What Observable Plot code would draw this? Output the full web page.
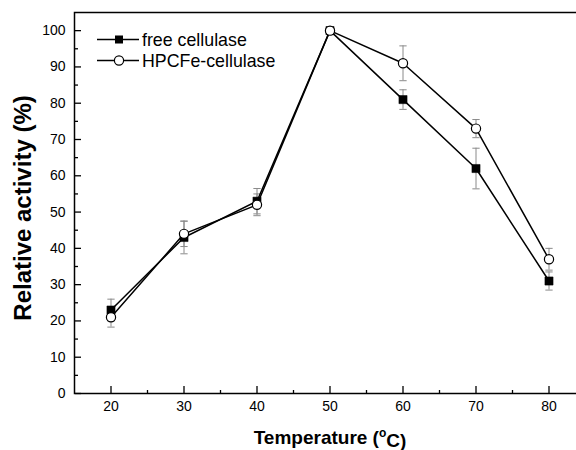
<!DOCTYPE html>
<html><head><meta charset="utf-8">
<script src="https://cdn.jsdelivr.net/npm/d3@7"></script>
<script src="https://cdn.jsdelivr.net/npm/@observablehq/plot@0.6"></script>
<style>
html,body{margin:0;padding:0;background:#fff;overflow:hidden;}
#wrap{position:relative;width:576px;height:450px;overflow:hidden;}
#legend{position:absolute;left:0;top:0;}
</style></head><body><div id="wrap"></div>
<script>
const temperatures = [20, 30, 40, 50, 60, 70, 80];
const freeActivity = [23, 43, 53, 100, 81, 62, 31];
const freeError = [3, 4.5, 3.5, 1, 2.7, 5.6, 2.5];
const hpcfeActivity = [21, 44, 52, 100, 91, 73, 37];
const hpcfeError = [2.7, 3.5, 3, 1, 4.8, 2.5, 3];
const seriesNames = ["free cellulase", "HPCFe-cellulase"];
const xTicks = [20, 30, 40, 50, 60, 70, 80];
const xMinorTicks = [25, 35, 45, 55, 65, 75];
const yTicks = [0, 10, 20, 30, 40, 50, 60, 70, 80, 90, 100];
const yMinorTicks = [5, 15, 25, 35, 45, 55, 65, 75, 85, 95];
const xTitle = "Temperature (°C)";
const yTitle = "Relative activity (%)";

const free = temperatures.map((t, i) => ({t, v: freeActivity[i], e: freeError[i]}));
const hpcfe = temperatures.map((t, i) => ({t, v: hpcfeActivity[i], e: hpcfeError[i]}));

const errMarks = (data) => [
  Plot.ruleX(data, {x: "t", y1: d => d.v - d.e, y2: d => d.v + d.e, stroke: "#8a8a8a", strokeWidth: 1}),
  Plot.link(data, {x1: d => d.t - 0.5, x2: d => d.t + 0.5, y1: d => d.v + d.e, y2: d => d.v + d.e, stroke: "#8a8a8a", strokeWidth: 1}),
  Plot.link(data, {x1: d => d.t - 0.5, x2: d => d.t + 0.5, y1: d => d.v - d.e, y2: d => d.v - d.e, stroke: "#8a8a8a", strokeWidth: 1})
];

const chart = Plot.plot({
  width: 576,
  height: 450,
  marginLeft: 74,
  marginRight: -9,
  marginTop: 12,
  marginBottom: 57,
  style: {fontFamily: "'Liberation Sans', Arial, sans-serif", fontSize: "14px", color: "black", background: "white"},
  x: {domain: [15, 85]},
  y: {domain: [0, 105]},
  marks: [
    ...errMarks(free),
    ...errMarks(hpcfe),
    Plot.line(free, {x: "t", y: "v", stroke: "black", strokeWidth: 1.5}),
    Plot.line(hpcfe, {x: "t", y: "v", stroke: "black", strokeWidth: 1.5}),
    Plot.dot(free, {x: "t", y: "v", symbol: "square", r: 4.6, fill: "black", stroke: "black", strokeWidth: 0.5}),
    Plot.dot(hpcfe, {x: "t", y: "v", symbol: "circle", r: 4.6, fill: "white", stroke: "black", strokeWidth: 1.2}),
    // labels
    Plot.axisX(xTicks, {anchor: "bottom", tickSize: 0, tickPadding: 8, label: null, fontSize: 14}),
    Plot.axisY(yTicks, {anchor: "left", tickSize: 0, tickPadding: 9, label: null, fontSize: 14}),
    // inward ticks
    Plot.axisX(xTicks, {anchor: "top", frameAnchor: "bottom", facetAnchor: null, tickSize: 8, text: null, label: null, strokeWidth: 1.3}),
    Plot.axisX(xMinorTicks, {anchor: "top", frameAnchor: "bottom", facetAnchor: null, tickSize: 4, text: null, label: null, strokeWidth: 1.3}),
    Plot.axisY(yTicks, {anchor: "right", frameAnchor: "left", facetAnchor: null, tickSize: 6, text: null, label: null, strokeWidth: 1.3}),
    Plot.axisY(yMinorTicks, {anchor: "right", frameAnchor: "left", facetAnchor: null, tickSize: 3, text: null, label: null, strokeWidth: 1.3}),
    Plot.frame({stroke: "black", strokeWidth: 1.5}),
    Plot.text([xTitle], {frameAnchor: "bottom", textAnchor: "middle", lineAnchor: "middle", dy: 44, fontSize: 19, fontWeight: "bold"}),
    Plot.text([yTitle], {frameAnchor: "left", textAnchor: "middle", lineAnchor: "middle", rotate: -90, dx: -51, dy: 5, fontSize: 24, fontWeight: "bold"})
  ]
});

// superscript degree sign in the x title
d3.select(chart).selectAll("text").each(function() {
  if (this.textContent === xTitle) {
    const el = d3.select(this);
    el.text(null);
    el.append("tspan").text("Temperature (");
    el.append("tspan").attr("font-size", 12).attr("dy", "-0.55em").text("o");
    el.append("tspan").attr("dy", "0.55em").text("C)");
  }
});

const wrap = document.getElementById("wrap");
wrap.appendChild(chart);

// legend
const lg = d3.select(wrap).append("svg").attr("id", "legend").attr("width", 300).attr("height", 80)
  .style("font-family", "'Liberation Sans', Arial, sans-serif");
const rows = [{name: seriesNames[0], sym: "square", y: 39.5}, {name: seriesNames[1], sym: "circle", y: 60.5}];
rows.forEach(r => {
  lg.append("line").attr("x1", 97).attr("x2", 139).attr("y1", r.y).attr("y2", r.y).attr("stroke", "black").attr("stroke-width", 1.5);
  if (r.sym === "square") {
    lg.append("rect").attr("x", 119 - 4).attr("y", r.y - 4).attr("width", 8).attr("height", 8).attr("fill", "black");
  } else {
    lg.append("circle").attr("cx", 119).attr("cy", r.y).attr("r", 4.6).attr("fill", "white").attr("stroke", "black").attr("stroke-width", 1.2);
  }
  lg.append("text").attr("x", 142).attr("y", r.y + 6.3).attr("font-size", 17.8).text(r.name);
});
</script></body></html>
